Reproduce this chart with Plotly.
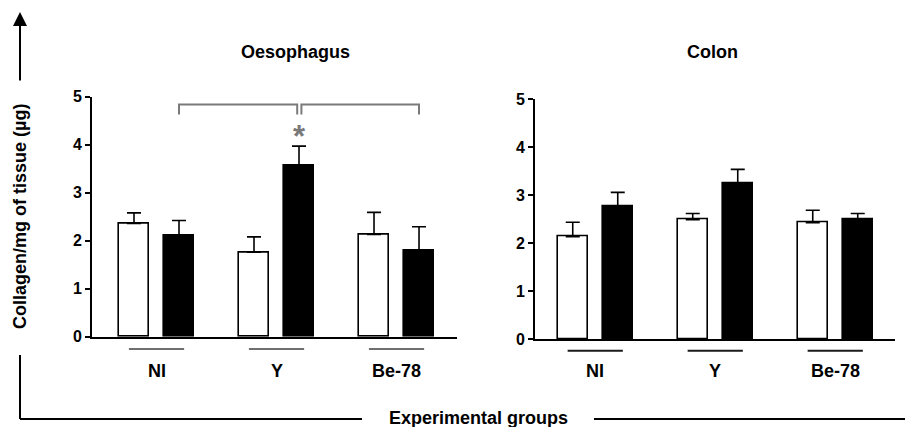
import plotly.graph_objects as go

# ---------------- data ----------------
groups = ["NI", "Y", "Be-78"]
panels = ["Oesophagus", "Colon"]

oes_white_mean = [2.36, 1.76, 2.13]
oes_white_sem = [0.22, 0.32, 0.46]
oes_black_mean = [2.10, 3.57, 1.79]
oes_black_sem = [0.32, 0.40, 0.50]

col_white_mean = [2.14, 2.49, 2.43]
col_white_sem = [0.30, 0.13, 0.26]
col_black_mean = [2.78, 3.24, 2.51]
col_black_sem = [0.28, 0.30, 0.11]

y_ticks = [0, 1, 2, 3, 4, 5]
y_title = "Collagen/mg of tissue (µg)"
x_title = "Experimental groups"
sig_mark = "*"

# ---------------- layout helpers ----------------
W, H = 905, 427
FONT = "Liberation Sans, Arial, sans-serif"
OFF = 0.1875   # half distance between paired bars (in group units)
BW = 0.25      # bar width (in group units)


def px(x):
    return x / W


def py(y):
    return 1 - y / H


gpos = list(range(len(groups)))

fig = go.Figure()


def add_pair(wm, ws, bm, bs, xa, ya):
    for means, sems, color, sign in [(wm, ws, "white", -1), (bm, bs, "black", 1)]:
        fig.add_trace(go.Bar(
            x=[g + sign * OFF for g in gpos], y=means, width=BW,
            marker=dict(color=color, line=dict(color="black", width=1.6)),
            error_y=dict(type="data", symmetric=False, array=sems,
                         arrayminus=[0] * len(sems), color="black",
                         thickness=1.6, width=7),
            xaxis=xa, yaxis=ya, showlegend=False, hoverinfo="skip",
        ))


add_pair(oes_white_mean, oes_white_sem, oes_black_mean, oes_black_sem, "x", "y")
add_pair(col_white_mean, col_white_sem, col_black_mean, col_black_sem, "x2", "y2")

axis_common = dict(showgrid=False, zeroline=False, showline=True,
                   linecolor="black", linewidth=2, automargin=False)
yaxis_common = dict(axis_common, range=[0, 5], tickvals=y_ticks, ticks="outside",
                    ticklen=5, tickwidth=2, tickcolor="black",
                    tickfont=dict(family=FONT, size=16, color="black", weight="bold"))

fig.update_layout(
    template="none",
    width=W, height=H, margin=dict(l=0, r=0, t=0, b=0, pad=0, autoexpand=False),
    paper_bgcolor="white", plot_bgcolor="white",
    bargap=0, showlegend=False,
    xaxis=dict(axis_common, domain=[px(92), px(457)], range=[-0.5375, 2.504],
               showticklabels=False, ticks="", anchor="y"),
    yaxis=dict(yaxis_common, domain=[py(336.7), py(96.7)], anchor="x"),
    xaxis2=dict(axis_common, domain=[px(535), px(895)], range=[-0.502, 2.498],
                showticklabels=False, ticks="", anchor="y2"),
    yaxis2=dict(yaxis_common, domain=[py(339.3), py(99.3)], anchor="x2"),
)

shapes = []
annotations = []

# group underlines and labels
for xa, yline, ycolor in [("x", 349, "#6f6f6f"), ("x2", 350.7, "#1a1a1a")]:
    for g, name in zip(gpos, groups):
        shapes.append(dict(type="line", xref=xa, yref="paper",
                           x0=g - 0.23, x1=g + 0.23, y0=py(yline), y1=py(yline),
                           line=dict(color=ycolor, width=2)))
        annotations.append(dict(xref=xa, yref="paper", x=g, y=py(371),
                                xanchor="center", yanchor="middle",
                                text=f"<b>{name}</b>", showarrow=False,
                                font=dict(family=FONT, size=18, color="black")))

# panel titles
for name, xc in zip(panels, [295, 712]):
    annotations.append(dict(xref="paper", yref="paper", x=px(xc), y=py(52),
                            xanchor="center", yanchor="middle",
                            text=f"<b>{name}</b>", showarrow=False,
                            font=dict(family=FONT, size=18, color="black")))

# significance brackets (Oesophagus): NI-black -> Y-black, Y-black -> Be-black
gray = "#7a7a7a"
yb_top, yb_bot = 4.84, 4.63
mid = gpos[1] + OFF
for xa0, xa1 in [(gpos[0] + OFF, mid - 0.015), (mid + 0.02, gpos[2] + OFF)]:
    shapes.append(dict(type="path", xref="x", yref="y",
                       path=f"M {xa0},{yb_bot} L {xa0},{yb_top} L {xa1},{yb_top} L {xa1},{yb_bot}",
                       line=dict(color=gray, width=2)))
annotations.append(dict(xref="x", yref="y", x=mid, y=4.17, text=f"<b>{sig_mark}</b>",
                        showarrow=False, xanchor="center", yanchor="middle",
                        font=dict(family=FONT, size=31, color=gray)))

# y-axis title with arrow
annotations.append(dict(xref="paper", yref="paper", x=px(20), y=py(217),
                        xanchor="center", yanchor="middle",
                        text=f"<b>{y_title}</b>", textangle=-90, showarrow=False,
                        font=dict(family=FONT, size=18, color="black")))
annotations.append(dict(xref="paper", yref="paper", x=px(20), y=py(12), text="",
                        showarrow=True, ax=0, ay=70, arrowhead=2, arrowsize=1.4,
                        arrowwidth=2, arrowcolor="black"))

# bottom L-frame with x title
shapes.append(dict(type="line", xref="paper", yref="paper", x0=px(20), x1=px(20),
                   y0=py(355), y1=py(419), line=dict(color="black", width=2)))
shapes.append(dict(type="line", xref="paper", yref="paper", x0=px(20), x1=px(362),
                   y0=py(419), y1=py(419), line=dict(color="black", width=2)))
shapes.append(dict(type="line", xref="paper", yref="paper", x0=px(594), x1=px(905),
                   y0=py(419), y1=py(419), line=dict(color="black", width=2)))
annotations.append(dict(xref="paper", yref="paper", x=px(479), y=py(418),
                        xanchor="center", yanchor="middle",
                        text=f"<b>{x_title}</b>", showarrow=False,
                        font=dict(family=FONT, size=18, color="black")))

fig.update_layout(shapes=shapes, annotations=annotations)

fig.write_html("out.html", config={"displayModeBar": False},
               post_script="document.body.style.margin='0px';document.body.style.padding='0px';")
